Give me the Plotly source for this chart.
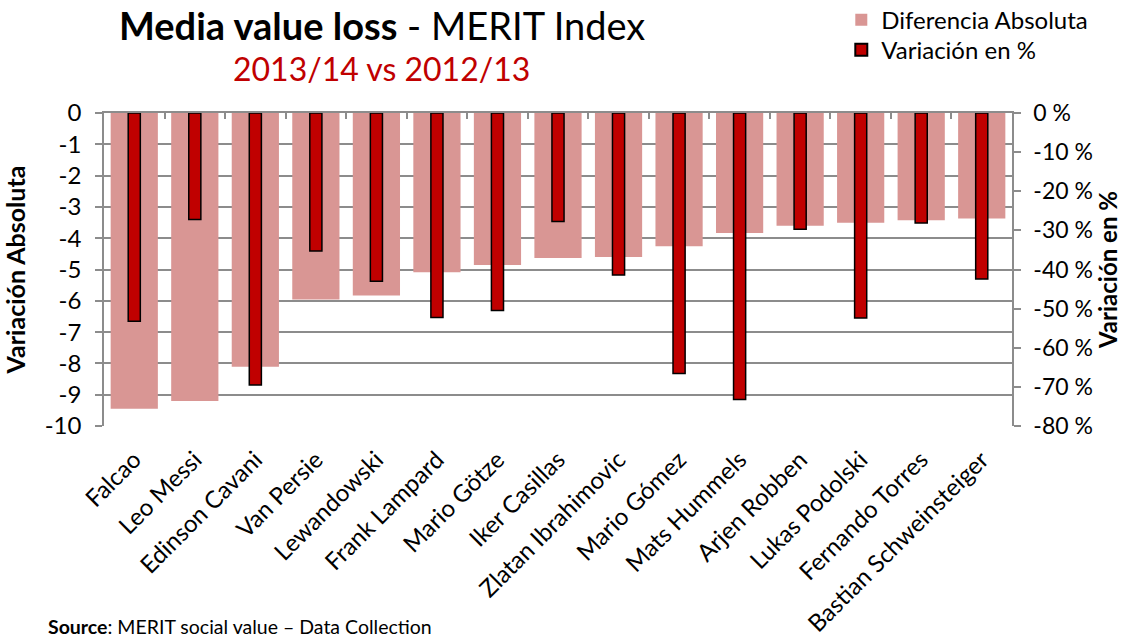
import plotly.graph_objects as go

categories = ["Falcao", "Leo Messi", "Edinson Cavani", "Van Persie", "Lewandowski",
              "Frank Lampard", "Mario Götze", "Iker Casillas", "Zlatan Ibrahimovic",
              "Mario Gómez", "Mats Hummels", "Arjen Robben", "Lukas Podolski",
              "Fernando Torres", "Bastian Schweinsteiger"]
diferencia_absoluta = [-9.45, -9.20, -8.11, -5.96, -5.83, -5.09, -4.86, -4.63, -4.60,
                       -4.26, -3.83, -3.60, -3.51, -3.43, -3.37]
variacion_pct = [-53.2, -27.2, -69.5, -35.3, -43.0, -52.3, -50.5, -27.7, -41.4,
                 -66.6, -73.2, -29.7, -52.4, -28.1, -42.4]

left_tickvals = [0, -1, -2, -3, -4, -5, -6, -7, -8, -9, -10]
left_ticktext = ["0", "-1", "-2", "-3", "-4", "-5", "-6", "-7", "-8", "-9", "-10"]
right_tickvals = [0, -10, -20, -30, -40, -50, -60, -70, -80]
right_ticktext = ["0 %", "-10 %", "-20 %", "-30 %", "-40 %", "-50 %", "-60 %", "-70 %", "-80 %"]

FONT = "Lato"
GRAY = "#8C8C8C"
PINK = "#D99694"
RED = "#C00000"

fig = go.Figure()
fig.add_trace(go.Bar(
    x=categories, y=diferencia_absoluta, name="Diferencia Absoluta",
    marker=dict(color=PINK, line=dict(width=0)), width=0.78,
    xaxis="x", yaxis="y", legend="legend"))
fig.add_trace(go.Bar(
    x=categories, y=variacion_pct, name="Variación en %",
    marker=dict(color=RED, line=dict(color="black", width=1.5)), width=0.2,
    xaxis="x", yaxis="y2", legend="legend2"))
fig.add_trace(go.Scatter(
    x=categories, y=diferencia_absoluta, mode="none", showlegend=False,
    hoverinfo="skip", xaxis="x2", yaxis="y"))

legend_style = dict(xanchor="left", yanchor="middle", font=dict(size=24, family=FONT),
                    bgcolor="rgba(0,0,0,0)", itemsizing="constant")

fig.update_layout(
    width=1125, height=639,
    margin=dict(l=104, r=113, t=113, b=213, autoexpand=False),
    paper_bgcolor="white", plot_bgcolor="white",
    barmode="overlay",
    font=dict(family=FONT, color="black", size=24),
    showlegend=True,
    legend=dict(x=0.812, y=1.297, **legend_style),
    legend2=dict(x=0.812, y=1.201, **legend_style),
    xaxis=dict(domain=[0, 1], type="category", tickangle=-45,
               tickfont=dict(size=24), showline=False, showgrid=False,
               ticks="", zeroline=False, automargin=False, ticklabelstandoff=14),
    xaxis2=dict(overlaying="x", side="top", type="category", matches="x",
                showticklabels=False, showline=True, linecolor=GRAY, linewidth=1.5,
                ticks="inside", tickson="boundaries", ticklen=6, tickcolor=GRAY,
                tickwidth=1.5, showgrid=False, zeroline=False, automargin=False),
    yaxis=dict(range=[-10, 0], tickvals=left_tickvals, ticktext=left_ticktext,
               tickfont=dict(size=24), showline=True, linecolor=GRAY, linewidth=1.5,
               ticks="outside", ticklen=7, tickcolor=GRAY, tickwidth=1.5,
               ticklabelstandoff=9,
               showgrid=True, gridcolor=GRAY, gridwidth=1.5, zeroline=False,
               title=dict(text="Variación Absoluta", font=dict(size=25, weight="bold"),
                          standoff=14),
               automargin=False),
    yaxis2=dict(range=[-80, 0], overlaying="y", side="right",
                tickvals=right_tickvals, ticktext=right_ticktext,
                tickfont=dict(size=23), showline=True, linecolor=GRAY, linewidth=1.5,
                ticks="outside", ticklen=7, tickcolor=GRAY, tickwidth=1.5,
                ticklabelstandoff=8,
                showgrid=False, zeroline=False,
                title=dict(text="Variación en %", font=dict(size=24, weight="bold"),
                           standoff=0),
                automargin=False),
    annotations=[
        dict(text="<b>Media value loss</b> - MERIT Index", xref="paper", yref="paper",
             x=0.306, y=1.358, xanchor="center", yanchor="top", showarrow=False,
             borderpad=0, font=dict(size=38, family=FONT, color="black")),
        dict(text="2013/14 vs 2012/13", xref="paper", yref="paper",
             x=0.306, y=1.141, xanchor="center", yanchor="middle", showarrow=False,
             font=dict(size=32, family=FONT, color=RED)),
        dict(text="<b>Source</b>: MERIT social value – Data Collection",
             xref="paper", yref="paper", x=-0.064, y=-0.642, xanchor="left",
             yanchor="middle", showarrow=False,
             font=dict(size=19.5, family=FONT, color="black")),
    ],
)

fig.write_html("out.html", config={"displayModeBar": False},
               post_script="document.body.style.margin='0';")
